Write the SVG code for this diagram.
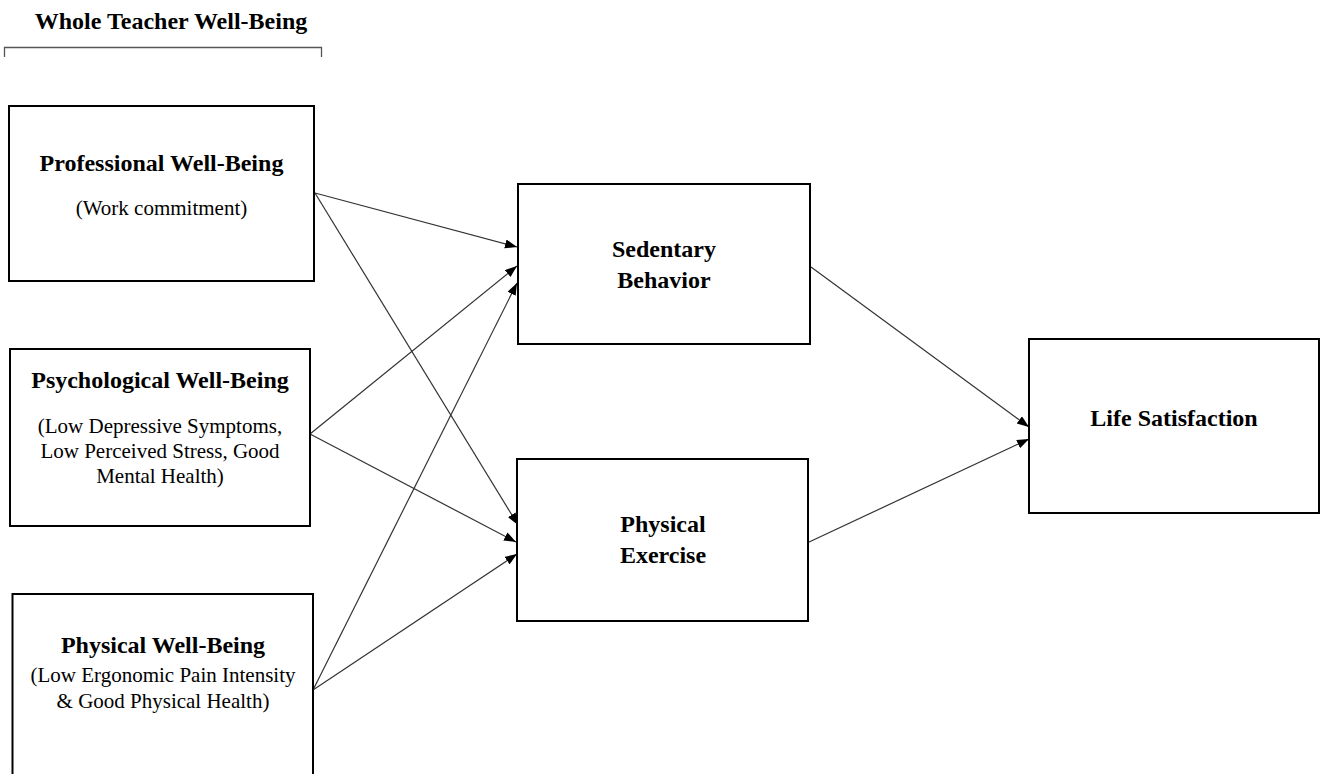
<svg xmlns="http://www.w3.org/2000/svg" width="1322" height="774" viewBox="0 0 1322 774" font-family="'Liberation Serif', 'Times New Roman', 'DejaVu Serif', serif">
<style>
.box{fill:#fff;stroke:#000;stroke-width:2}
text{font-family:'Liberation Serif','Times New Roman','DejaVu Serif',serif;fill:#000;text-anchor:middle}
.b{font-weight:bold;font-size:24px}
.r{font-size:21px}
.c{stroke:#333;stroke-width:1.2;fill:none;marker-end:url(#ah)}
</style>
<defs>
<marker id="ah" markerUnits="userSpaceOnUse" markerWidth="13" markerHeight="10" refX="12" refY="4.5" orient="auto">
<path d="M0,0 L12,4.5 L0,9 z" fill="#000"/>
</marker>
</defs>
<rect width="1322" height="774" fill="#fff"/>
<g id="header">
<text class="b" x="171" y="29">Whole Teacher Well-Being</text>
<path d="M4.5,57 V47.5 H321.5 V57" fill="none" stroke="#555" stroke-width="1.3"/>
</g>
<g id="connectors">
<line class="c" x1="315" y1="193" x2="517" y2="247"/>
<line class="c" x1="315" y1="193" x2="518" y2="525"/>
<line class="c" x1="310" y1="434" x2="517" y2="266"/>
<line class="c" x1="310" y1="434" x2="516" y2="542"/>
<line class="c" x1="313" y1="690" x2="517" y2="283"/>
<line class="c" x1="313" y1="690" x2="517" y2="554"/>
<line class="c" x1="811" y1="267" x2="1029" y2="427"/>
<line class="c" x1="807" y1="543" x2="1029" y2="439"/>
</g>
<g id="professional">
<rect class="box" x="9" y="106" width="305" height="175"/>
<text class="b" x="161.5" y="171">Professional Well-Being</text>
<text class="r" x="161.5" y="215">(Work commitment)</text>
</g>
<g id="psychological">
<rect class="box" x="10" y="349" width="300" height="177"/>
<text class="b" x="160" y="388">Psychological Well-Being</text>
<text class="r" x="160" y="433">(Low Depressive Symptoms,</text>
<text class="r" x="160" y="458">Low Perceived Stress, Good</text>
<text class="r" x="160" y="483">Mental Health)</text>
</g>
<g id="physical">
<rect class="box" x="12.5" y="594" width="300.5" height="190"/>
<text class="b" x="163" y="653">Physical Well-Being</text>
<text class="r" x="163" y="682">(Low Ergonomic Pain Intensity</text>
<text class="r" x="163" y="708">&amp; Good Physical Health)</text>
</g>
<g id="sedentary">
<rect class="box" x="518" y="184" width="292" height="160"/>
<text class="b" x="664" y="257">Sedentary</text>
<text class="b" x="664" y="288">Behavior</text>
</g>
<g id="exercise">
<rect class="box" x="517" y="459" width="291" height="162"/>
<text class="b" x="663" y="532">Physical</text>
<text class="b" x="663" y="563">Exercise</text>
</g>
<g id="life">
<rect class="box" x="1029" y="339" width="290" height="174"/>
<text class="b" x="1174" y="426">Life Satisfaction</text>
</g>
</svg>
